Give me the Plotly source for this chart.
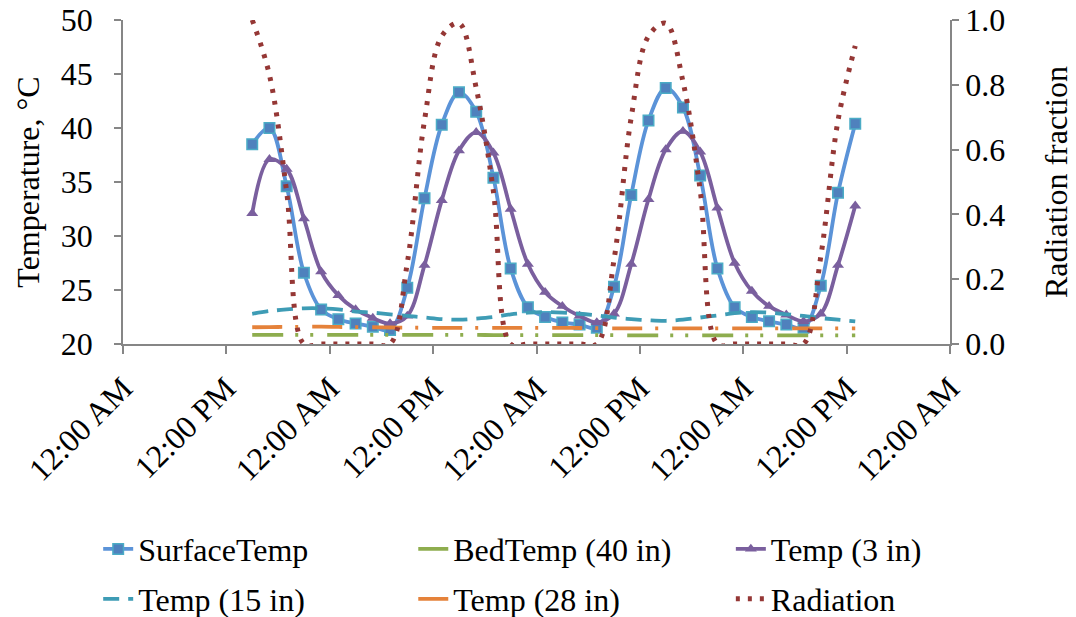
import plotly.graph_objects as go
import pandas as pd

# Time stamps: every 2 hours from 3 PM on day 1 to 1 PM on day 4
start = pd.Timestamp("2013-07-01 15:00")
times = [start + pd.Timedelta(hours=2 * i) for i in range(36)]

surface_temp = [38.5, 40.0, 34.6, 26.6, 23.2, 22.3, 21.9, 21.6, 21.3, 25.2,
                33.5, 40.3, 43.3, 41.5, 35.4, 27.0, 23.4, 22.5, 22.0, 21.8,
                21.5, 25.3, 33.8, 40.7, 43.7, 41.9, 35.6, 27.0, 23.4, 22.5,
                22.1, 21.8, 21.5, 25.4, 34.0, 40.4]
bed_temp_40 = [20.85, 20.85, 20.85, 20.85, 20.85, 20.85, 20.85, 20.85, 20.85, 20.85,
               20.85, 20.85, 20.85, 20.85, 20.82, 20.82, 20.82, 20.82, 20.82, 20.82,
               20.82, 20.82, 20.8, 20.8, 20.8, 20.8, 20.8, 20.8, 20.8, 20.8,
               20.8, 20.8, 20.8, 20.8, 20.8, 20.8]
temp_3 = [32.1, 37.1, 36.2, 31.6, 26.7, 24.5, 23.2, 22.4, 21.9, 22.6,
          27.3, 33.3, 37.9, 39.6, 37.7, 32.5, 27.4, 24.8, 23.5, 22.6,
          22.0, 22.8, 27.4, 33.4, 38.0, 39.7, 37.8, 32.6, 27.5, 24.9,
          23.5, 22.7, 22.1, 22.8, 27.3, 32.8]
temp_15 = [22.8, 23.05, 23.2, 23.3, 23.3, 23.2, 23.0, 22.9, 22.75, 22.6,
           22.45, 22.3, 22.25, 22.35, 22.5, 22.75, 22.9, 22.95, 22.9, 22.8,
           22.65, 22.45, 22.3, 22.2, 22.15, 22.25, 22.45, 22.65, 22.85, 22.95,
           22.9, 22.75, 22.6, 22.4, 22.25, 22.1]
temp_28 = [21.55, 21.57, 21.58, 21.6, 21.6, 21.58, 21.56, 21.55, 21.53, 21.52,
           21.5, 21.5, 21.5, 21.5, 21.5, 21.5, 21.5, 21.5, 21.5, 21.48,
           21.47, 21.45, 21.45, 21.45, 21.45, 21.45, 21.45, 21.45, 21.45, 21.45,
           21.45, 21.45, 21.45, 21.45, 21.45, 21.45]
radiation = [1.0, 0.83, 0.47, 0.0, 0.0, 0.0, 0.0, 0.0, 0.0, 0.25,
             0.69, 0.95, 0.99, 0.79, 0.47, 0.0, 0.0, 0.0, 0.0, 0.0,
             0.0, 0.26, 0.70, 0.95, 0.99, 0.81, 0.475, 0.0, 0.0, 0.0,
             0.0, 0.0, 0.0, 0.27, 0.69, 0.92]

FONT = "Liberation Serif"
FS = 32
AXIS_COLOR = "#868686"

fig = go.Figure()

fig.add_trace(go.Scatter(
    x=times, y=surface_temp, name="SurfaceTemp", mode="lines+markers",
    legend="legend",
    line=dict(color="#5B93D8", width=3.8, shape="spline"),
    marker=dict(symbol="square", size=10.5, color="#4F81BD",
                line=dict(color="#4BACC6", width=1.5)),
))
fig.add_trace(go.Scatter(
    x=times, y=bed_temp_40, name="BedTemp (40 in)", mode="lines",
    legend="legend2",
    line=dict(color="#8EAD4E", width=3.8, shape="spline",
              dash="31px,12px,3px,12px,3px,14px"),
))
fig.add_trace(go.Scatter(
    x=times, y=temp_3, name="Temp (3 in)", mode="lines+markers",
    legend="legend3",
    line=dict(color="#7A5F9E", width=3.8, shape="spline"),
    marker=dict(symbol="triangle-up", size=10.5, color="#7A5F9E"),
))
fig.add_trace(go.Scatter(
    x=times, y=temp_15, name="Temp (15 in)", mode="lines",
    legend="legend4",
    line=dict(color="#3E9CB5", width=3.8, shape="spline", dash="16px,9px"),
))
fig.add_trace(go.Scatter(
    x=times, y=temp_28, name="Temp (28 in)", mode="lines",
    legend="legend5",
    line=dict(color="#E5823A", width=3.8, shape="spline",
              dash="30px,13px,3px,14px"),
))
fig.add_trace(go.Scatter(
    x=times, y=radiation, name="Radiation", mode="lines", yaxis="y2",
    legend="legend6",
    line=dict(color="#953735", width=5, shape="spline", dash="4px,8px"),
))

x0 = pd.Timestamp("2013-07-01 00:00")
x1 = x0 + pd.Timedelta(hours=96)


def leg(x, y):
    return dict(x=x, y=y, xanchor="left", yanchor="middle",
                font=dict(size=FS, family=FONT, color="black"),
                bgcolor="rgba(0,0,0,0)", borderwidth=0)


col_x = [-0.030, 0.351, 0.735]
row_y = [-0.633, -0.787]

fig.update_layout(
    width=1076, height=617,
    margin=dict(l=123, r=126, t=20, b=273, autoexpand=False),
    paper_bgcolor="white", plot_bgcolor="white",
    font=dict(family=FONT, size=FS, color="black"),
    showlegend=True,
    legend=leg(col_x[0], row_y[0]),
    legend2=leg(col_x[1], row_y[0]),
    legend3=leg(col_x[2], row_y[0]),
    legend4=leg(col_x[0], row_y[1]),
    legend5=leg(col_x[1], row_y[1]),
    legend6=leg(col_x[2], row_y[1]),
    xaxis=dict(
        type="date", range=[x0, x1], dtick=12 * 3600 * 1000, tick0=x0,
        tickformat="%I:%M %p", tickangle=-45,
        showline=True, linecolor=AXIS_COLOR, linewidth=1.5,
        ticks="outside", ticklen=8, tickcolor=AXIS_COLOR, tickwidth=1.5,
        ticklabelstandoff=3,
        showgrid=False, zeroline=False,
        tickfont=dict(size=FS, family=FONT),
    ),
    yaxis=dict(
        range=[20, 50], dtick=5,
        title=dict(text="Temperature, °C", font=dict(size=FS, family=FONT), standoff=12),
        showline=True, linecolor=AXIS_COLOR, linewidth=1.5,
        ticks="outside", ticklen=7, tickcolor=AXIS_COLOR, tickwidth=1.5,
        ticklabelstandoff=15,
        showgrid=False, zeroline=False,
        tickfont=dict(size=FS, family=FONT),
    ),
    yaxis2=dict(
        range=[0, 1], dtick=0.2, tickformat=".1f", overlaying="y", side="right",
        title=dict(text="Radiation fraction", font=dict(size=FS, family=FONT), standoff=40),
        showline=True, linecolor=AXIS_COLOR, linewidth=1.5,
        ticks="outside", ticklen=7, tickcolor=AXIS_COLOR, tickwidth=1.5,
        showgrid=False, zeroline=False,
        tickfont=dict(size=FS, family=FONT),
    ),
)

fig.write_html("out.html")
